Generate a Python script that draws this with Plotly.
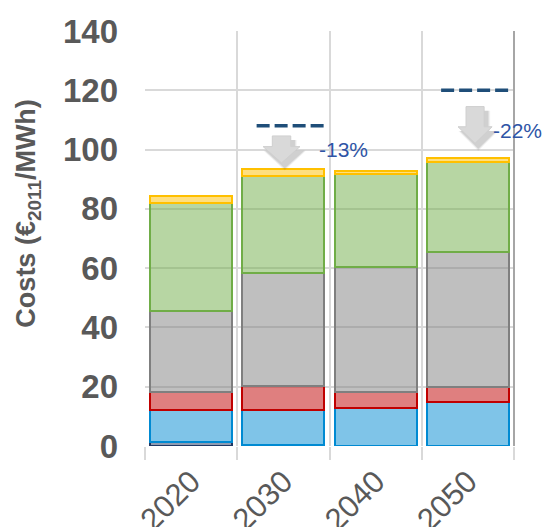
import plotly.graph_objects as go

# Generation-cost breakdown per decade (EUR2011/MWh), stacked bottom to top
years = ["2020", "2030", "2040", "2050"]
seg_navy = [1.3, 0.4, 0.0, 0.0]
seg_blue = [10.8, 11.7, 12.7, 14.9]
seg_red = [6.1, 8.2, 5.4, 5.1]
seg_gray = [27.3, 38.2, 42.2, 45.5]
seg_green = [36.6, 32.6, 31.4, 30.2]
seg_yellow = [2.2, 2.3, 1.2, 1.6]

# Reference cost levels and the reductions relative to them
ref_years = ["2030", "2050"]
ref_levels = [108, 120]
ref_labels = ["-13%", "-22%"]

y_ticks = [0, 20, 40, 60, 80, 100, 120, 140]

series = [
    (seg_navy, (32, 56, 100)),
    (seg_blue, (0, 138, 210)),
    (seg_red, (192, 0, 0)),
    (seg_gray, (127, 127, 127)),
    (seg_green, (112, 173, 71)),
    (seg_yellow, (255, 192, 0)),
]

fig = go.Figure()
for vals, (r, g, b) in series:
    fig.add_trace(go.Bar(
        x=years, y=vals,
        marker=dict(color=f"rgba({r},{g},{b},0.5)",
                    line=dict(color=f"rgb({r},{g},{b})", width=2)),
        showlegend=False, hoverinfo="skip",
    ))

# invisible linear axis sharing the category positions, used for overlays
fig.add_trace(go.Scatter(x=[-0.5, 3.5], y=[0, 0], xaxis="x2", mode="markers",
                         marker=dict(opacity=0), showlegend=False, hoverinfo="skip"))

shapes = []
annotations = []


def arrow_path(cx, shaft, head, top, neck, tip, dx=0.0, dy=0.0):
    pts = [(cx - shaft, top), (cx + shaft, top), (cx + shaft, neck), (cx + head, neck),
           (cx, tip), (cx - head, neck), (cx - shaft, neck)]
    return "M " + " L ".join(f"{x + dx},{y + dy}" for x, y in pts) + " Z"


arrow_geom = {
    "2030": dict(off=-0.02, shaft=0.10, head=0.20, top=104.6, neck=101.0, tip=95.5, lab=(0.36, 100.0)),
    "2050": dict(off=0.078, shaft=0.098, head=0.185, top=114.5, neck=107.7, tip=102.1, lab=(0.255, 106.6)),
}

for yr, lvl, lab in zip(ref_years, ref_levels, ref_labels):
    i = years.index(yr)
    # dashed reference level
    shapes.append(dict(type="line", xref="x2", yref="y", x0=i - 0.29, x1=i + 0.47,
                       y0=lvl, y1=lvl, line=dict(color="#1F4E79", width=3.5, dash="13px,5px")))
    g = arrow_geom[yr]
    cx = i + g["off"]
    # soft drop shadow
    for k, op in [(3, 0.07), (2, 0.10), (1, 0.14)]:
        shapes.append(dict(type="path", xref="x2", yref="y",
                           path=arrow_path(cx, g["shaft"] + 0.01 * k, g["head"] + 0.01 * k,
                                           g["top"], g["neck"], g["tip"] - 0.4 * k,
                                           dx=0.035, dy=-1.4),
                           fillcolor=f"rgba(90,90,90,{op})", line=dict(width=0)))
    shapes.append(dict(type="path", xref="x2", yref="y",
                       path=arrow_path(cx, g["shaft"], g["head"], g["top"], g["neck"], g["tip"]),
                       fillcolor="#D9D9D9", line=dict(color="#CFCFCF", width=1)))
    annotations.append(dict(xref="x2", yref="y", x=i + g["lab"][0], y=g["lab"][1],
                            text=lab, showarrow=False, xanchor="left", yanchor="middle",
                            font=dict(family="Liberation Sans, Arial", size=21, color="#2E54A6")))

# darker right edge of the plot frame
shapes.append(dict(type="line", xref="paper", yref="paper", x0=1, x1=1, y0=0, y1=1,
                   line=dict(color="#A6A6A6", width=2)))

annotations.append(dict(xref="paper", yref="paper", x=-0.317, y=0.56,
                        text="<b>Costs (€<sub>2011</sub>/MWh)</b>", textangle=-90,
                        showarrow=False, xanchor="center", yanchor="middle",
                        font=dict(family="Liberation Sans, Arial", size=27, color="#595959")))

fig.update_layout(
    width=543, height=527,
    margin=dict(l=145, r=29, t=31, b=81, autoexpand=False),
    paper_bgcolor="white", plot_bgcolor="white",
    barmode="stack", bargap=0.11,
    shapes=shapes, annotations=annotations,
    xaxis=dict(type="category", range=[-0.5, 3.5], tickson="boundaries",
               showgrid=True, gridcolor="#D9D9D9", gridwidth=2,
               ticks="outside", ticklen=13, tickcolor="#D9D9D9", tickwidth=2,
               tickangle=-45, showline=False, zeroline=False, automargin=False,
               ticklabelstandoff=10,
               tickfont=dict(family="Liberation Sans, Arial", size=31, color="#595959")),
    xaxis2=dict(overlaying="x", range=[-0.5, 3.5], visible=False, fixedrange=True),
    yaxis=dict(range=[0, 140], tickvals=y_ticks, showgrid=True, gridcolor="#D9D9D9",
               gridwidth=2, zeroline=False, showline=False, ticks="", automargin=False,
               ticklabelstandoff=26,
               tickfont=dict(family="Liberation Sans, Arial", size=33, color="#595959",
                             weight="bold")),
)

fig.write_html("out.html")
